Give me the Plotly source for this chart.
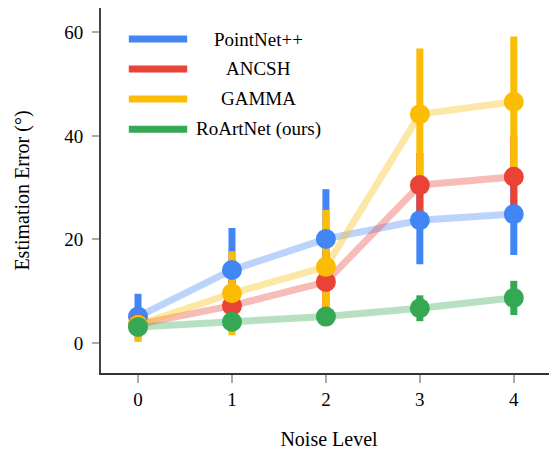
import plotly.graph_objects as go

noise_levels = [0, 1, 2, 3, 4]
series_names = ["PointNet++", "ANCSH", "GAMMA", "RoArtNet (ours)"]
colors = ["#4285F4", "#EA4335", "#FBBC05", "#34A853"]

pointnet_mean = [5.1, 14.1, 20.1, 23.7, 24.9]
pointnet_err = [4.4, 8.1, 9.6, 8.5, 7.9]
ancsh_mean = [3.6, 7.2, 11.8, 30.5, 32.1]
ancsh_err = [2.0, 5.0, 6.0, 6.2, 8.0]
gamma_mean = [3.5, 9.6, 14.7, 44.2, 46.6]
gamma_err = [3.3, 8.1, 11.0, 12.7, 12.6]
roart_mean = [3.1, 4.1, 5.1, 6.7, 8.7]
roart_err = [1.5, 1.5, 1.5, 2.5, 3.3]

means = [pointnet_mean, ancsh_mean, gamma_mean, roart_mean]
errs = [pointnet_err, ancsh_err, gamma_err, roart_err]

FONT = "Liberation Serif"
fig = go.Figure()

# translucent lines
for name, c, m in zip(series_names, colors, means):
    fig.add_trace(go.Scatter(x=noise_levels, y=m, mode="lines",
                             line=dict(color=c, width=7), opacity=0.35,
                             showlegend=False, hoverinfo="skip"))
# error bars
for name, c, m, e in zip(series_names, colors, means, errs):
    fig.add_trace(go.Scatter(x=noise_levels, y=m, mode="markers",
                             marker=dict(color=c, size=1, opacity=0),
                             error_y=dict(type="data", array=e, color=c,
                                          thickness=7, width=0),
                             showlegend=False, hoverinfo="skip"))
# markers
for name, c, m in zip(series_names, colors, means):
    fig.add_trace(go.Scatter(x=noise_levels, y=m, mode="markers",
                             marker=dict(color=c, size=20, line=dict(width=0)),
                             name=name, showlegend=False))

# manual legend
legend_rows_y = [0.915, 0.833, 0.751, 0.668]
for name, c, yy in zip(series_names, colors, legend_rows_y):
    fig.add_shape(type="line", xref="paper", yref="paper",
                  x0=0.061, x1=0.189, y0=yy, y1=yy,
                  line=dict(color=c, width=7))
    fig.add_annotation(xref="paper", yref="paper", x=0.346, y=yy,
                       text=name, showarrow=False, xanchor="center",
                       yanchor="middle",
                       font=dict(family=FONT, size=19, color="black"))

# y-axis title
fig.add_annotation(xref="paper", yref="paper", x=-0.173, y=0.5,
                   text="Estimation Error (°)", textangle=-90, showarrow=False,
                   xanchor="center", yanchor="middle",
                   font=dict(family=FONT, size=20, color="black"))

fig.update_layout(
    width=549, height=447,
    margin=dict(l=93, r=0, t=0, b=82),
    plot_bgcolor="white", paper_bgcolor="white",
    font=dict(family=FONT, size=19, color="black"),
    xaxis=dict(range=[-0.394, 4.46], tickvals=noise_levels,
               ticks="outside", ticklen=8, tickwidth=1.5, tickcolor="#aaaaaa",
               showgrid=False, zeroline=False, automargin=False,
               showline=True, linecolor="#333333", linewidth=2,
               title=dict(text="Noise Level", font=dict(size=20), standoff=23),
               tickfont=dict(size=19)),
    yaxis=dict(range=[-5.8, 64.7], tickvals=[0, 20, 40, 60],
               ticks="outside", ticklen=7, tickwidth=1.5, tickcolor="#aaaaaa",
               showgrid=False, zeroline=False, automargin=False,
               showline=True, linecolor="#444444", linewidth=2,
               ticklabelstandoff=5,
               tickfont=dict(size=19)),
)

fig.write_html("out.html")
